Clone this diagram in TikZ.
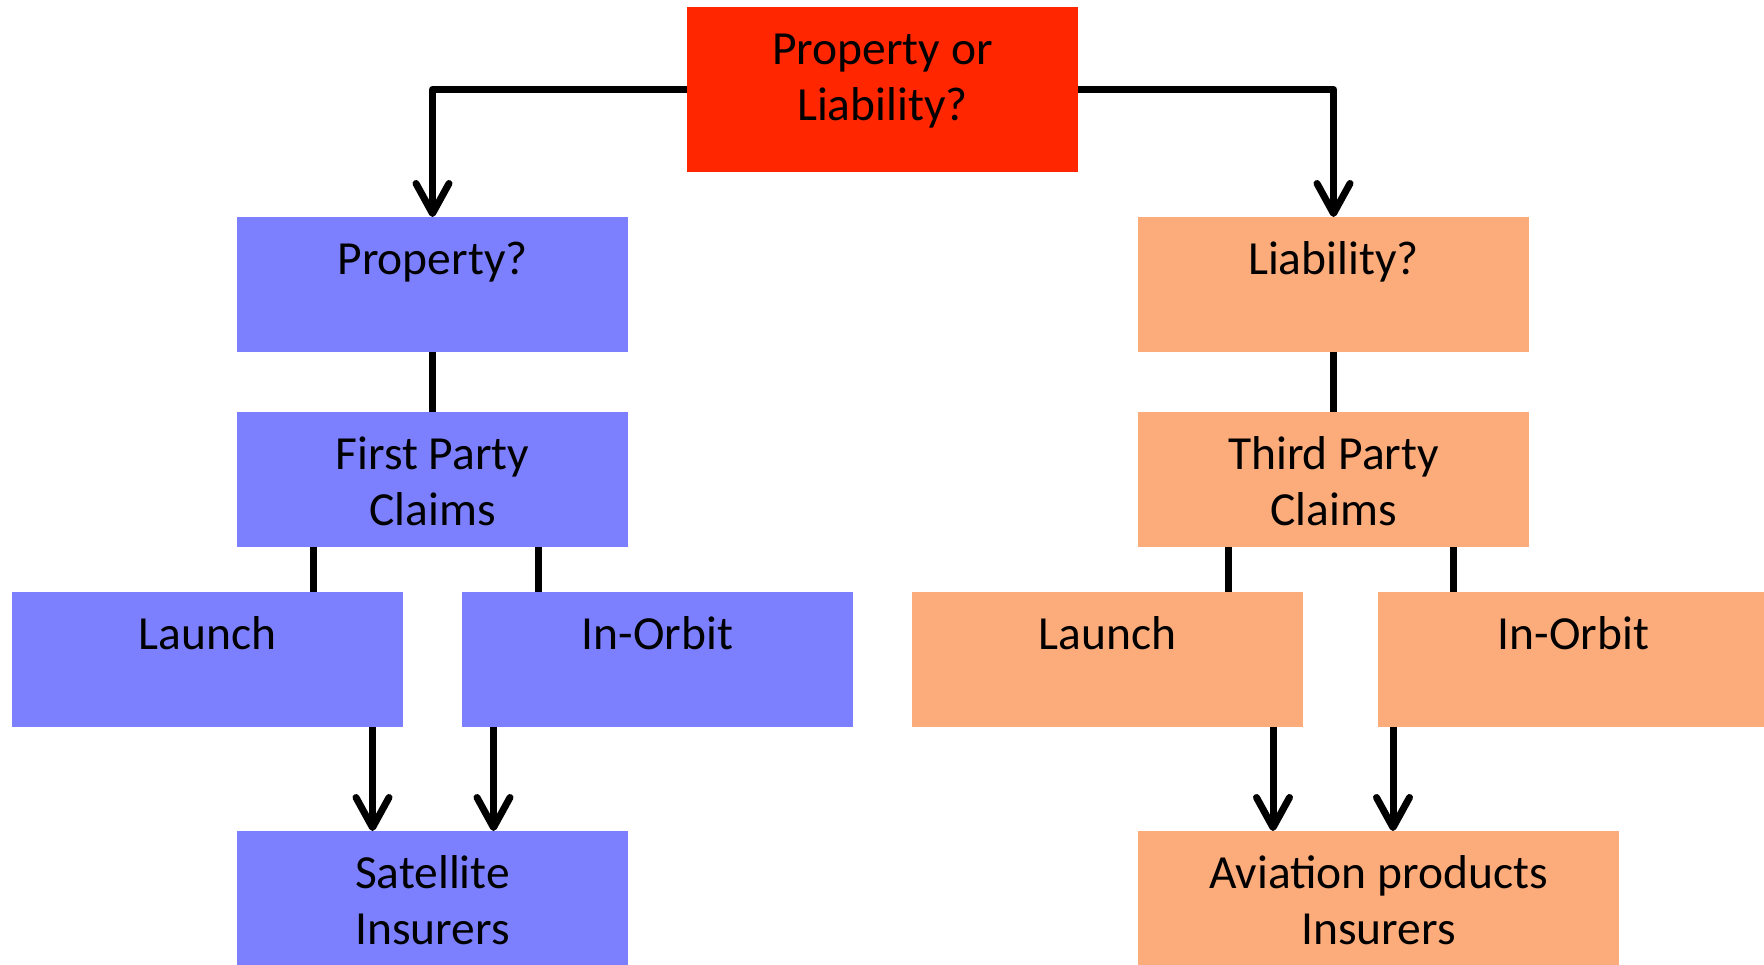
\documentclass[tikz,border=0pt]{standalone}
\usepackage{fontspec}
\setmainfont{Carlito}
\usetikzlibrary{arrows.meta}
\definecolor{topred}{HTML}{FF2600}
\definecolor{propblue}{HTML}{7C80FE}
\definecolor{liabpeach}{HTML}{FCAB7A}
\begin{document}
\begin{tikzpicture}[x=1pt,y=1pt,
  box/.style={rectangle, inner sep=0pt, outer sep=0pt, minimum height=135pt, minimum width=391pt, anchor=north west},
  pbox/.style={box, fill=propblue},
  lbox/.style={box, fill=liabpeach},
  lbl/.style={inner sep=0pt, anchor=north, align=center, font=\fontsize{47.5}{56}\selectfont},
  conn/.style={line width=7pt},
  arr/.style={line width=7pt, line join=round, -{Straight Barb[length=30pt,width=33pt,line cap=round,line join=round]}}]
\useasboundingbox (0,0) rectangle (1764,-965);
% boxes
\node[box, fill=topred, minimum height=165pt] (top) at (687,-7) {};
\node[pbox] (prop) at (237,-217) {};
\node[pbox] (first) at (237,-412) {};
\node[pbox] (launchL) at (12,-592) {};
\node[pbox] (orbitL) at (462,-592) {};
\node[pbox] (sat) at (237,-831) {};
\node[lbox] (liab) at (1138,-217) {};
\node[lbox] (third) at (1138,-412) {};
\node[lbox] (launchR) at (912,-592) {};
\node[lbox] (orbitR) at (1378,-592) {};
\node[lbox, minimum width=481pt] (avi) at (1138,-831) {};
% labels
\node[lbl] (topt) at ([yshift=-18pt]top.north) {\strut Property or\\Liability?};
\node[lbl] (propt) at ([yshift=-18pt]prop.north) {\strut Property?};
\node[lbl] (firstt) at ([yshift=-18pt]first.north) {\strut First Party\\Claims};
\node[lbl] (launchLt) at ([yshift=-18pt]launchL.north) {\strut Launch};
\node[lbl] (orbitLt) at ([yshift=-18pt]orbitL.north) {\strut In-Orbit};
\node[lbl] (satt) at ([yshift=-18pt]sat.north) {\strut Satellite\\Insurers};
\node[lbl] (liabt) at ([yshift=-18pt]liab.north) {\strut Liability?};
\node[lbl] (thirdt) at ([yshift=-18pt]third.north) {\strut Third Party\\Claims};
\node[lbl] (launchRt) at ([yshift=-18pt]launchR.north) {\strut Launch};
\node[lbl] (orbitRt) at ([yshift=-18pt]orbitR.north) {\strut In-Orbit};
\node[lbl] (avit) at ([yshift=-18pt]avi.north) {\strut Aviation products\\Insurers};
% connectors
\draw[arr] (top.west) -| (prop.north);
\draw[arr] (top.east) -| (liab.north);
\draw[conn] (prop.south) -- (first.north);
\draw[conn] (liab.south) -- (third.north);
\draw[conn] ([xshift=-119.5pt]first.south) -- ([xshift=-119.5pt]first.south |- launchL.north);
\draw[conn] ([xshift=105.5pt]first.south) -- ([xshift=105.5pt]first.south |- orbitL.north);
\draw[conn] ([xshift=-105.5pt]third.south) -- ([xshift=-105.5pt]third.south |- launchR.north);
\draw[conn] ([xshift=119.5pt]third.south) -- ([xshift=119.5pt]third.south |- orbitR.north);
\draw[arr] ([xshift=165pt]launchL.south) -- ([xshift=165pt]launchL.south |- sat.north);
\draw[arr] ([xshift=-164pt]orbitL.south) -- ([xshift=-164pt]orbitL.south |- sat.north);
\draw[arr] ([xshift=165.5pt]launchR.south) -- ([xshift=165.5pt]launchR.south |- avi.north);
\draw[arr] ([xshift=-180.5pt]orbitR.south) -- ([xshift=-180.5pt]orbitR.south |- avi.north);
\end{tikzpicture}
\end{document}
